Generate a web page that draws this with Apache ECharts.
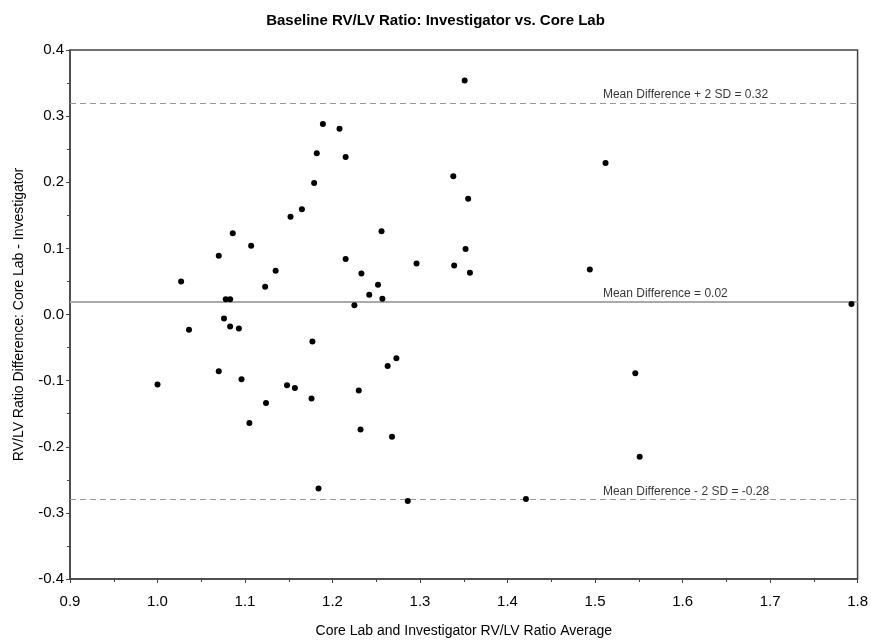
<!DOCTYPE html>
<html>
<head>
<meta charset="utf-8">
<script src="https://cdn.jsdelivr.net/npm/echarts@6/dist/echarts.min.js"></script>
<style>
html,body{margin:0;padding:0;background:#fff;}
#chart{width:871px;height:643px;}
</style>
</head>
<body>
<div id="chart"></div>
<script>
// Bland-Altman data: x = average, y = difference
const avgValues = [
  1.000, 1.027, 1.036, 1.189, 1.208, 1.182, 1.215, 1.179, 1.165, 1.152,
  1.086, 1.107, 1.070, 1.215, 1.135, 1.123, 1.078, 1.083, 1.225, 1.076,
  1.083, 1.093, 1.177, 1.070, 1.096, 1.148, 1.157, 1.176, 1.124, 1.105,
  1.184, 1.351, 1.338, 1.355, 1.256, 1.352, 1.296, 1.339, 1.233, 1.357,
  1.252, 1.242, 1.257, 1.273, 1.263, 1.230, 1.232, 1.268, 1.286, 1.421,
  1.512, 1.494, 1.793, 1.546, 1.551
];
const diffValues = [
  -0.106, 0.050, -0.023, 0.288, 0.281, 0.244, 0.238, 0.199, 0.159, 0.148,
  0.123, 0.104, 0.089, 0.084, 0.066, 0.042, 0.023, 0.023, 0.014, -0.006,
  -0.018, -0.021, -0.041, -0.086, -0.098, -0.107, -0.111, -0.127, -0.134, -0.164,
  -0.263, 0.354, 0.209, 0.175, 0.126, 0.099, 0.077, 0.074, 0.062, 0.063,
  0.045, 0.030, 0.024, -0.066, -0.078, -0.115, -0.174, -0.185, -0.282, -0.279,
  0.229, 0.068, 0.016, -0.089, -0.215
];
const refLineValues = [0.32, 0.02, -0.28];
const refLineLabels = ['Mean Difference + 2 SD = 0.32', 'Mean Difference = 0.02', 'Mean Difference - 2 SD = -0.28'];
const refLabelX = 1.509;

const FONT = "'Liberation Sans Narrow', 'Liberation Sans', Arial, sans-serif";

const points = avgValues.map((x, i) => [x, diffValues[i]]);
const labelPoints = refLineValues.map((v, i) => ({ value: [refLabelX, v], name: refLineLabels[i] }));

const chart = echarts.init(document.getElementById('chart'));
chart.setOption({
  animation: false,
  backgroundColor: '#fff',
  title: {
    text: 'Baseline RV/LV Ratio: Investigator vs. Core Lab',
    left: 'center',
    top: 8,
    textStyle: { fontFamily: FONT, fontSize: 15, fontWeight: 'bold', color: '#000' }
  },
  grid: {
    left: 70, right: 12, top: 50, bottom: 63,
    show: true, borderColor: '#444', borderWidth: 1.5, backgroundColor: 'transparent'
  },
  xAxis: {
    type: 'value',
    min: 0.9, max: 1.8, interval: 0.1,
    name: 'Core Lab and Investigator RV/LV Ratio Average',
    nameLocation: 'middle', nameGap: 45,
    nameTextStyle: { fontFamily: FONT, fontSize: 14, color: '#000' },
    axisLine: { show: true, onZero: false, lineStyle: { color: '#444', width: 1.5 } },
    axisTick: { show: true, inside: false, length: 4, lineStyle: { color: '#444' } },
    minorTick: { show: true, splitNumber: 2, length: 3, lineStyle: { color: '#444' } },
    axisLabel: { fontFamily: FONT, fontSize: 15, color: '#000', margin: 15,
      formatter: v => v.toFixed(1) },
    splitLine: { show: false }
  },
  yAxis: {
    type: 'value',
    min: -0.4, max: 0.4, interval: 0.1,
    name: 'RV/LV Ratio Difference: Core Lab - Investigator',
    nameLocation: 'middle', nameGap: 44,
    nameTextStyle: { fontFamily: FONT, fontSize: 14, color: '#000' },
    axisLine: { show: true, onZero: false, lineStyle: { color: '#444', width: 1.5 } },
    axisTick: { show: true, inside: false, length: 4, lineStyle: { color: '#444' } },
    minorTick: { show: true, splitNumber: 2, length: 3, lineStyle: { color: '#444' } },
    axisLabel: { fontFamily: FONT, fontSize: 15, color: '#000', margin: 6,
      formatter: v => v.toFixed(1) },
    splitLine: { show: false }
  },
  series: [
    {
      type: 'scatter',
      data: points,
      symbol: 'circle',
      symbolSize: 6,
      itemStyle: { color: '#000', opacity: 1 },
      z: 5,
      markLine: {
        silent: true,
        symbol: 'none',
        label: { show: false },
        data: [
          { yAxis: refLineValues[0], lineStyle: { type: [6, 4], color: '#999', width: 1.2 } },
          { yAxis: refLineValues[1], lineStyle: { type: 'solid', color: '#aaa', width: 1.8 } },
          { yAxis: refLineValues[2], lineStyle: { type: [6, 4], color: '#999', width: 1.2 } }
        ]
      }
    },
    {
      type: 'scatter',
      data: labelPoints,
      symbolSize: 0,
      silent: true,
      z: 4,
      label: {
        show: true,
        position: 'top',
        align: 'left',
        distance: 2,
        formatter: p => p.name,
        fontFamily: FONT,
        fontSize: 12,
        color: '#000'
      }
    }
  ]
});
</script>
</body>
</html>
